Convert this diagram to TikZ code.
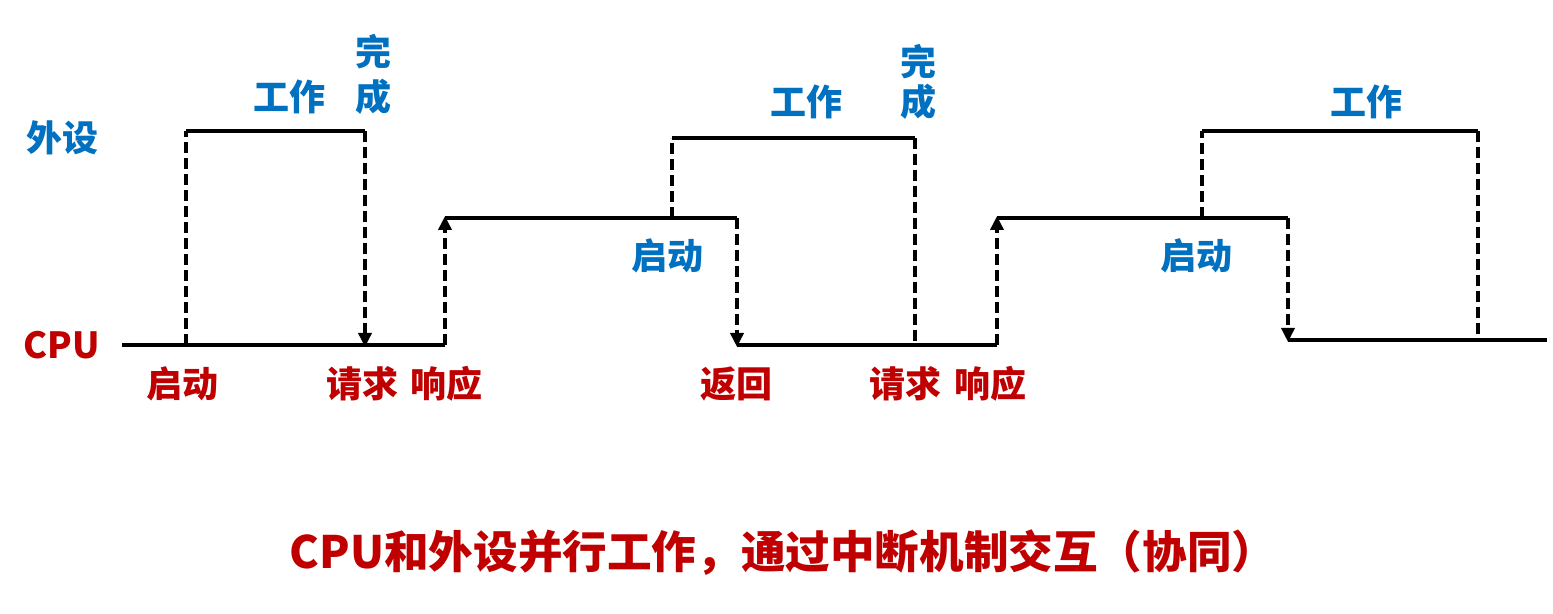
\documentclass[tikz,border=0pt]{standalone}
\usepackage{fontspec}
\newfontfamily\cjk{Noto Sans CJK SC}
\usetikzlibrary{arrows.meta}
\definecolor{lblue}{HTML}{0070C0}
\definecolor{lred}{HTML}{C00000}
\tikzset{
  level/.style={line width=2.2pt, black},
  dashln/.style={line width=2pt, black, dash pattern=on 5.5pt off 2.5pt},
  darrow/.style={dashln, -{Triangle[length=7pt,width=6.5pt]}, shorten >=-1pt},
  bl/.style={font=\cjk\bfseries\fontsize{18}{21}\selectfont, text=lblue, inner sep=0pt},
  rd/.style={font=\cjk\bfseries\fontsize{18}{21}\selectfont, text=lred, inner sep=0pt},
  ttl/.style={font=\cjk\bfseries\fontsize{22.3}{26}\selectfont, text=lred, inner sep=0pt}
}
\begin{document}
\begin{tikzpicture}[x=0.5pt,y=-0.5pt]
\useasboundingbox[fill=white] (0,0) rectangle (1553,614);
% coordinates
\coordinate (c0) at (122,345);
\coordinate (a1) at (186,345);
\coordinate (a1t) at (186,131);
\coordinate (b1t) at (365,131);
\coordinate (b1) at (365,345);
\coordinate (r1) at (445,345);
\coordinate (r1t) at (445,218);
\coordinate (s2t) at (672,218);
\coordinate (s2tt) at (672,138);
\coordinate (f2tt) at (915,138);
\coordinate (f2) at (915,345);
\coordinate (ret) at (737,218);
\coordinate (retb) at (737,345);
\coordinate (r2) at (997,345);
\coordinate (r2t) at (997,218);
\coordinate (s3t) at (1202,218);
\coordinate (s3tt) at (1202,131);
\coordinate (f3tt) at (1478,131);
\coordinate (f3) at (1478,340);
\coordinate (ret3) at (1288,218);
\coordinate (ret3b) at (1288,340);
\coordinate (cend) at (1547,340);
% solid levels
\draw[level] (c0) -- (r1);
\draw[level] (r1t) -- (ret);
\draw[level] (retb) -- (r2);
\draw[level] (r2t) -- (ret3);
\draw[level] (ret3b) -- (cend);
\draw[level] (a1t) -- (b1t);
\draw[level] (s2tt) -- (f2tt);
\draw[level] (s3tt) -- (f3tt);
% dashed transitions
\draw[dashln] (a1) -- (a1t);
\draw[darrow] (b1t) -- (b1);
\draw[darrow] (r1) -- (r1t);
\draw[dashln] (s2t) -- (s2tt);
\draw[darrow] (ret) -- (retb);
\draw[dashln] (f2tt) -- (f2);
\draw[darrow] (r2) -- (r2t);
\draw[dashln] (s3t) -- (s3tt);
\draw[darrow] (ret3) -- (ret3b);
\draw[dashln] (f3tt) -- (f3);
% labels
\node[bl] (lw) at (62,138) {外设};
\node[rd] (lc) at (62,345) {CPU};
\node[bl] (w1) at (289,97) {工作};
\node[bl] (d1a) at (373,52) {完};
\node[bl] (d1b) at (373,97) {成};
\node[bl] (w2) at (806,102) {工作};
\node[bl] (d2a) at (918,62) {完};
\node[bl] (d2b) at (918,102) {成};
\node[bl] (w3) at (1366,102) {工作};
\node[bl] (s2) at (667,256) {启动};
\node[bl] (s3) at (1196,256) {启动};
\node[rd] (q0) at (182,384) {启动};
\node[rd] (q1) at (362,384) {请求};
\node[rd] (x1) at (446,384) {响应};
\node[rd] (h1) at (736,384) {返回};
\node[rd] (q2) at (905,384) {请求};
\node[rd] (x2) at (990,384) {响应};
\node[ttl] (title) at (783,553) {CPU和外设并行工作，通过中断机制交互（协同）};
\end{tikzpicture}
\end{document}
